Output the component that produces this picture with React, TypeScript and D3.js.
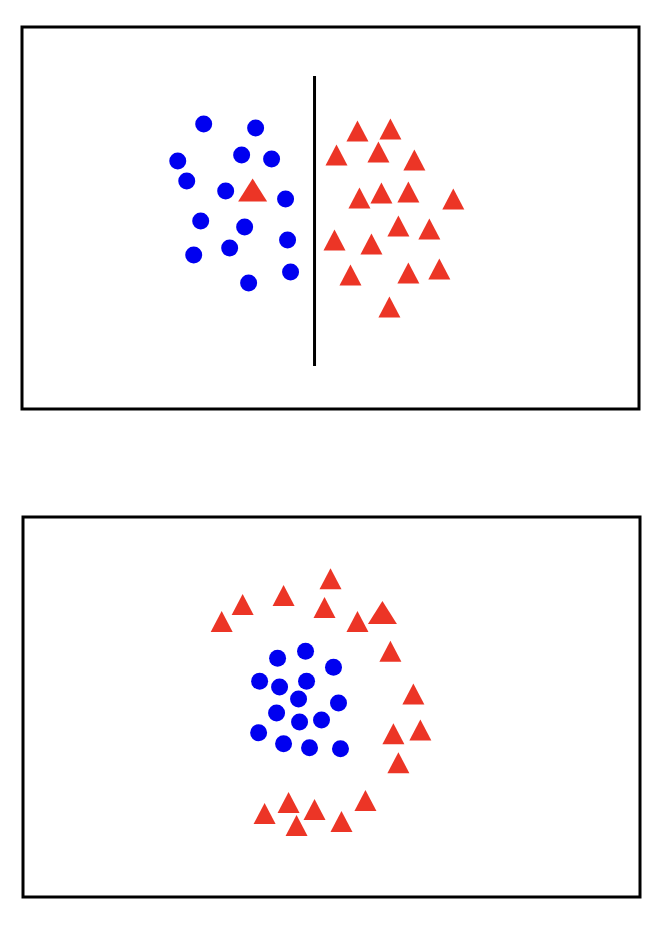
import * as d3 from 'd3';

// panel 1: linearly separable classes
const sepBlueX = [-1.27, -0.75, -1.53, -0.89, -0.59, -1.44, -1.05, -0.45, -1.3, -0.86, -0.43, -1.37, -1.01, -0.4, -0.82];
const sepBlueY = [0.94, 0.9, 0.57, 0.63, 0.59, 0.37, 0.27, 0.19, -0.03, -0.09, -0.22, -0.37, -0.3, -0.54, -0.65];
const sepRedX = [0.27, 0.6, 0.06, 0.48, 0.84, 0.29, 0.51, 0.78, 1.23, 0.68, 0.99, 0.04, 0.41, 0.2, 0.78, 1.09, 0.59];
const sepRedY = [0.87, 0.89, 0.63, 0.66, 0.58, 0.2, 0.25, 0.26, 0.19, -0.08, -0.11, -0.22, -0.26, -0.57, -0.55, -0.51, -0.89];
const sepOddRed = [[-0.78, 0.28]];
const boundaryX = -0.16;
const boundaryY = [1.42, -1.48];

// panel 2: ring around a cluster
const ringBlueX = [-0.54, -0.26, 0.02, -0.72, -0.52, -0.25, -0.33, 0.07, -0.55, -0.32, -0.1, -0.73, -0.48, -0.22, 0.09];
const ringBlueY = [0.49, 0.56, 0.4, 0.26, 0.2, 0.26, 0.08, 0.04, -0.06, -0.15, -0.13, -0.26, -0.37, -0.41, -0.42];
const ringRedX = [-0.01, -0.89, -0.48, -1.1, -0.07, 0.26, 0.59, 0.82, 0.62, 0.89, 0.67, -0.43, -0.67, -0.17, -0.35, 0.1, 0.34];
const ringRedY = [1.29, 1.03, 1.12, 0.86, 1.0, 0.86, 0.56, 0.13, -0.27, -0.23, -0.56, -0.96, -1.07, -1.03, -1.19, -1.15, -0.94];
const ringOddRed = [[0.51, 0.95]];

const xDomain = [-3.09, 3.09];
const yDomain = [-1.91, 1.91];

const BLUE = '#0000f0';
const RED = '#ec3526';

function tri(w: number, h: number) {
  return `M0,${-h / 2}L${w / 2},${h / 2}L${-w / 2},${h / 2}Z`;
}

type PanelProps = {
  box: { x0: number; y0: number; x1: number; y1: number };
  blueX: number[];
  blueY: number[];
  redX: number[];
  redY: number[];
  odd: number[][];
  boundary?: boolean;
};

function Panel({ box, blueX, blueY, redX, redY, odd, boundary }: PanelProps) {
  const x = d3.scaleLinear().domain(xDomain).range([box.x0, box.x1]);
  const y = d3.scaleLinear().domain(yDomain).range([box.y1, box.y0]);
  const small = tri(22, 21);
  const big = tri(29, 23);
  return (
    <g>
      <rect
        x={box.x0}
        y={box.y0}
        width={box.x1 - box.x0}
        height={box.y1 - box.y0}
        fill="#fff"
        stroke="#000"
        strokeWidth={3}
      />
      {boundary && (
        <line
          x1={x(boundaryX)}
          x2={x(boundaryX)}
          y1={y(boundaryY[0])}
          y2={y(boundaryY[1])}
          stroke="#000"
          strokeWidth={3}
        />
      )}
      {blueX.map((v, i) => (
        <circle key={'b' + i} cx={x(v)} cy={y(blueY[i])} r={8.5} fill={BLUE} />
      ))}
      {redX.map((v, i) => (
        <path key={'r' + i} d={small} transform={`translate(${x(v)},${y(redY[i])})`} fill={RED} />
      ))}
      {odd.map(([a, b], i) => (
        <path key={'o' + i} d={big} transform={`translate(${x(a)},${y(b)})`} fill={RED} />
      ))}
    </g>
  );
}

export default function App() {
  return (
    <svg
      width={656}
      height={928}
      style={{ position: 'absolute', left: 0, top: 0, background: '#fff' }}
    >
      <Panel
        box={{ x0: 22, y0: 27, x1: 639, y1: 409 }}
        blueX={sepBlueX}
        blueY={sepBlueY}
        redX={sepRedX}
        redY={sepRedY}
        odd={sepOddRed}
        boundary
      />
      <Panel
        box={{ x0: 23, y0: 517, x1: 640, y1: 897 }}
        blueX={ringBlueX}
        blueY={ringBlueY}
        redX={ringRedX}
        redY={ringRedY}
        odd={ringOddRed}
      />
    </svg>
  );
}
